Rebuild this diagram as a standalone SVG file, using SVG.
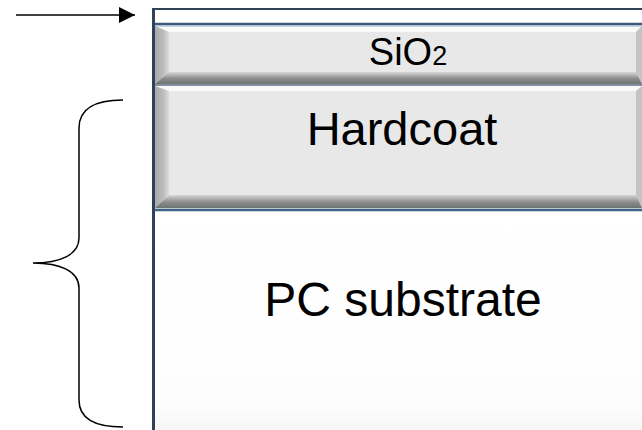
<svg xmlns="http://www.w3.org/2000/svg" width="642" height="430" viewBox="0 0 642 430">
<style>
  .txt { font-family: "Liberation Sans", Arial, sans-serif; fill: #000; }
  .face { fill: #e8e8e8; }
  .top { fill: #fafafa; }
  .right { fill: #c4c4c4; }
  .conn { fill: none; stroke: #000; stroke-width: 1.5; }
  .frame { stroke: #2e4358; }
</style>
<defs>
  <linearGradient id="gLeft" x1="0" y1="0" x2="1" y2="0">
    <stop offset="0" stop-color="#a9a9a9"/>
    <stop offset="0.6" stop-color="#bdbdbd"/>
    <stop offset="1" stop-color="#dcdcdc"/>
  </linearGradient>
  <linearGradient id="gBottom" x1="0" y1="0" x2="0" y2="1">
    <stop offset="0" stop-color="#d6d6d6"/>
    <stop offset="0.55" stop-color="#8c8c8c"/>
    <stop offset="1" stop-color="#6e7474"/>
  </linearGradient>
  <linearGradient id="gSub" x1="0" y1="0" x2="0" y2="1">
    <stop offset="0" stop-color="#ffffff"/>
    <stop offset="0.9" stop-color="#fdfdfd"/>
    <stop offset="1" stop-color="#f6f6f6"/>
  </linearGradient>
  <marker id="arrow" viewBox="0 0 16 16" refX="16" refY="8" markerWidth="16" markerHeight="16" markerUnits="userSpaceOnUse" orient="auto">
    <path d="M0,0 L16,8 L0,16 Z" fill="#000"/>
  </marker>
</defs>

<g id="substrate">
  <rect x="155" y="210" width="487" height="220" fill="url(#gSub)"/>
  <text class="txt" x="403" y="316" font-size="48" text-anchor="middle">PC substrate</text>
</g>

<g id="layer-top">
  <rect x="153" y="9" width="489" height="15" fill="#ffffff"/>
</g>

<g id="sio2">
  <rect class="face" x="155" y="26" width="487" height="59"/>
  <polygon class="top" points="155,26 642,26 636,32 169,32"/>
  <polygon fill="url(#gLeft)" points="155,26 169,32 169,72 155,84"/>
  <polygon class="right" points="642,26 642,84 636,72 636,32"/>
  <polygon fill="url(#gBottom)" points="155,84 169,72 636,72 642,84"/>
  <text class="txt" x="408" y="65" font-size="38" text-anchor="middle">SiO<tspan font-size="27">2</tspan></text>
</g>

<g id="hardcoat">
  <rect class="face" x="155" y="86" width="487" height="123"/>
  <polygon class="top" points="155,86 642,86 636,91 169,91"/>
  <polygon fill="url(#gLeft)" points="155,86 169,91 169,195 155,208"/>
  <polygon class="right" points="642,86 642,208 636,195 636,91"/>
  <polygon fill="url(#gBottom)" points="155,208 169,195 636,195 642,208"/>
  <text class="txt" x="402" y="145" font-size="47" text-anchor="middle">Hardcoat</text>
</g>

<g id="frame">
  <line class="frame" x1="152" y1="9" x2="642" y2="9" stroke-width="2"/>
  <line x1="152" y1="24" x2="642" y2="24" stroke="#3c5a78" stroke-width="2.5"/>
  <line x1="152" y1="26" x2="642" y2="26" stroke="#8fb0cc" stroke-width="1"/>
  <line x1="152" y1="85" x2="642" y2="85" stroke="#5a6f85" stroke-width="1.5"/>
  <line x1="152" y1="210" x2="642" y2="210" stroke="#3c6488" stroke-width="2.5"/>
  <line class="frame" x1="153.5" y1="8" x2="153.5" y2="430" stroke-width="3"/>
</g>

<g id="connectors">
  <line class="conn" x1="16" y1="15" x2="135" y2="15" marker-end="url(#arrow)"/>
  <path class="conn" d="M123,100 C93,100 79,110 79,128 L79,238 C79,255 60,263 33,263 C60,263 79,271 79,288 L79,400 C79,418 93,427 123,427"/>
</g>
</svg>
